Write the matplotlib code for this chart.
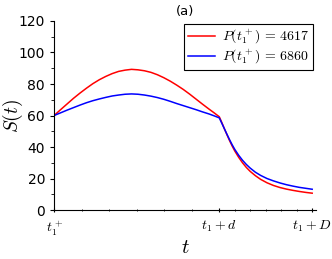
import matplotlib.pyplot as plt
from matplotlib.ticker import FixedLocator

plt.rcParams["mathtext.fontset"] = "cm"

# time normalised so t1+ = 0, t1+d = 0.64, t1+D = 1
D_POS = 0.64
t_vals = [0.0, 0.025, 0.05, 0.075, 0.1, 0.125, 0.15, 0.175, 0.2, 0.225,
          0.25, 0.275, 0.3, 0.325, 0.35, 0.375, 0.4, 0.425, 0.45, 0.475,
          0.5, 0.525, 0.55, 0.575, 0.6, 0.62, 0.64,
          0.65, 0.66, 0.67, 0.68, 0.69, 0.70, 0.715, 0.73, 0.745, 0.76,
          0.78, 0.80, 0.825, 0.85, 0.875, 0.90, 0.925, 0.95, 0.975, 1.0]
s_red = [60.0, 63.7, 67.3, 70.9, 74.2, 77.3, 80.2, 82.7, 84.8, 86.6,
         88.0, 88.8, 89.3, 89.0, 88.4, 87.4, 85.9, 84.0, 81.8, 79.3,
         76.6, 73.6, 70.4, 67.2, 64.1, 61.7, 59.2,
         55.5, 51.5, 47.7, 44.0, 40.6, 37.5, 33.5, 30.0, 27.0, 24.5,
         21.8, 19.5, 17.3, 15.6, 14.3, 13.3, 12.5, 11.8, 11.2, 10.7]
s_blue = [60.0, 61.7, 63.4, 65.0, 66.6, 68.1, 69.4, 70.5, 71.5, 72.4,
          73.0, 73.5, 73.7, 73.5, 73.0, 72.3, 71.4, 70.3, 69.0, 67.6,
          66.3, 65.0, 63.7, 62.3, 61.0, 59.8, 58.5,
          55.0, 51.5, 48.0, 44.6, 41.4, 38.5, 34.8, 31.6, 28.9, 26.6,
          24.0, 22.0, 20.0, 18.5, 17.2, 16.1, 15.2, 14.4, 13.8, 13.2]
labels = [r"$P(t_1^+)\,=\,4617$", r"$P(t_1^+)\,=\,6860$"]
xtick_pos = [0.0, D_POS, 1.0]
xtick_labels = [r"$t_1^+$", r"$t_1+d$", r"$t_1+D$"]

fig = plt.figure(figsize=(3.32, 2.59), dpi=100)
ax = fig.add_axes([0.163, 0.189, 0.789, 0.730])

ax.plot(t_vals, s_red, color="red", lw=1.1, label=labels[0])
ax.plot(t_vals, s_blue, color="blue", lw=1.1, label=labels[1])

ax.set_xlim(0, 1.015)
ax.set_ylim(0, 120)
ax.spines["top"].set_visible(False)
ax.spines["right"].set_visible(False)
ax.spines["left"].set_linewidth(0.8)
ax.spines["bottom"].set_linewidth(0.8)

ax.set_yticks(range(0, 121, 20))
ax.yaxis.set_minor_locator(FixedLocator(range(10, 120, 20)))
ax.set_xticks(xtick_pos)
ax.set_xticklabels(xtick_labels, fontsize=10)
minor_x = [D_POS * i / 6 for i in range(1, 6)] + \
    [D_POS + (1 - D_POS) * i / 6 for i in range(1, 6)]
ax.xaxis.set_minor_locator(FixedLocator(minor_x))

ax.tick_params(axis="y", which="major", direction="out", length=3, labelsize=10)
ax.tick_params(axis="y", which="minor", direction="out", length=2)
ax.tick_params(axis="x", which="major", direction="inout", length=3, pad=5)
ax.tick_params(axis="x", which="minor", direction="inout", length=2)

ax.set_xlabel(r"$t$", fontsize=15)
ax.xaxis.set_label_coords(0.5, -0.14)
ax.set_ylabel(r"$S(t)$", fontsize=14)
ax.yaxis.set_label_coords(-0.112, 0.5)
ax.set_title("(a)", fontsize=9.5, pad=4)

leg = ax.legend(loc="upper right", fontsize=10, frameon=True, fancybox=False,
                framealpha=1, edgecolor="black", handlelength=1.9,
                handletextpad=0.5, borderaxespad=0.2, borderpad=0.3,
                labelspacing=0.15)
leg.get_frame().set_linewidth(0.8)

fig.savefig("out.png", dpi=100)
